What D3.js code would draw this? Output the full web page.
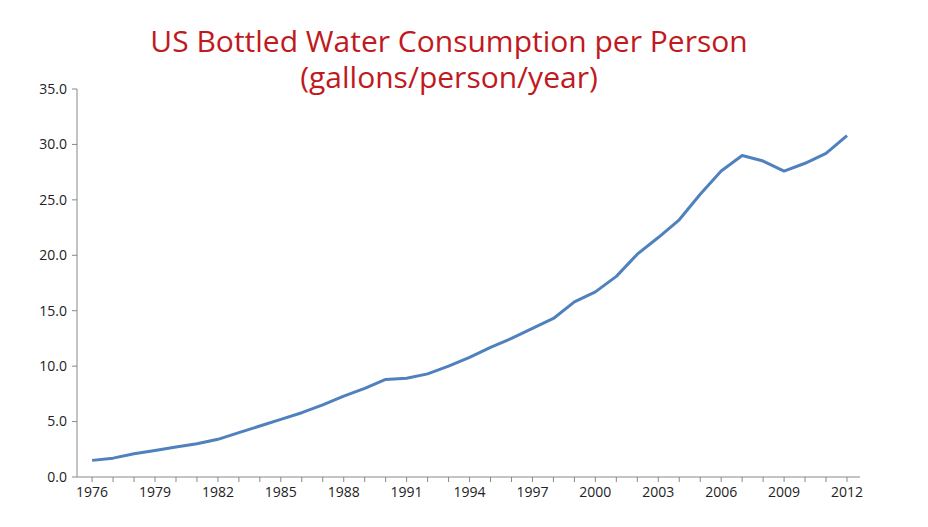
<!DOCTYPE html>
<html><head><meta charset="utf-8">
<script src="https://cdn.jsdelivr.net/npm/d3@7"></script>
<style>body{margin:0;background:#fff}</style>
</head><body><div id="app"></div>
<script>
const years = d3.range(1976, 2013)
const gallons = [1.5,1.7,2.1,2.4,2.7,3.0,3.4,4.0,4.6,5.2,5.8,6.5,7.3,8.0,8.8,8.9,9.3,10.0,10.8,11.7,12.5,13.4,14.3,15.8,16.7,18.1,20.1,21.6,23.2,25.5,27.6,29.0,28.5,27.6,28.3,29.2,30.8]
const yTicks = [0,5,10,15,20,25,30,35]
const xTickLabels = d3.range(1976, 2013, 3)
const titleLines = ['US Bottled Water Consumption per Person', '(gallons/person/year)']

const width = 928, height = 527
const margin = { top: 89, right: 68, bottom: 50, left: 77 }

const svg = d3.select('#app').append('svg').attr('width', width).attr('height', height)
  .style('font-family', '"Open Sans", "Liberation Sans", sans-serif')

const x = d3.scaleLinear().domain([1975.28, 2012.62]).range([margin.left, width - margin.right])
const y = d3.scaleLinear().domain([0, 35]).range([height - margin.bottom, margin.top])

// y axis
svg.append('line').attr('x1', margin.left).attr('x2', margin.left)
  .attr('y1', y(0)).attr('y2', y(35)).attr('stroke', '#888')
svg.selectAll('.ylab').data(yTicks).join('text')
  .attr('x', margin.left - 10).attr('y', d => y(d)).attr('dy', '0.35em')
  .attr('text-anchor', 'end').attr('font-size', 14).attr('fill', '#222')
  .text(d => d.toFixed(1))
svg.selectAll('.ytick').data(yTicks).join('line')
  .attr('x1', margin.left - 5).attr('x2', margin.left).attr('y1', d => y(d)).attr('y2', d => y(d)).attr('stroke', '#888')

// x axis
svg.append('line').attr('x1', margin.left).attr('x2', width - margin.right)
  .attr('y1', y(0)).attr('y2', y(0)).attr('stroke', '#888')
svg.selectAll('.xtick').data(years).join('line')
  .attr('x1', d => x(d)).attr('x2', d => x(d)).attr('y1', y(0)).attr('y2', y(0) + 5).attr('stroke', '#888')
svg.selectAll('.xlab').data(xTickLabels).join('text')
  .attr('x', d => x(d)).attr('y', y(0) + 20)
  .attr('text-anchor', 'middle').attr('font-size', 14).attr('fill', '#222')
  .text(d => d)

// line
const line = d3.line().x((d, i) => x(years[i])).y(d => y(d))
svg.append('path').datum(gallons).attr('d', line)
  .attr('fill', 'none').attr('stroke', '#4f81bd').attr('stroke-width', 3).attr('stroke-linejoin', 'round')

// title
svg.selectAll('.title').data(titleLines).join('text')
  .attr('x', 449).attr('y', (d, i) => 52 + i * 36)
  .attr('text-anchor', 'middle').attr('font-size', 30).attr('fill', '#c0191e')
  .text(d => d)
</script>
</body></html>
